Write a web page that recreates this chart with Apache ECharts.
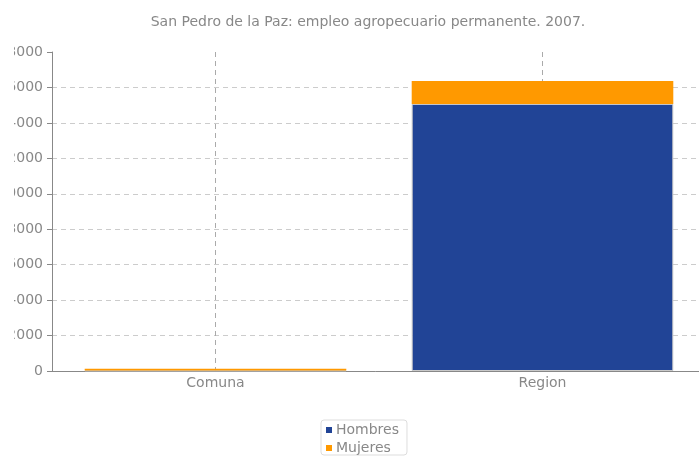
<!DOCTYPE html>
<html><head><meta charset="utf-8">
<script src="https://cdn.jsdelivr.net/npm/echarts@6/dist/echarts.min.js"></script>
<style>html,body{margin:0;padding:0;background:#fff}#c{width:699px;height:458px}</style>
</head><body><div id="c"></div>
<script>
const titleText = 'San Pedro de la Paz: empleo agropecuario permanente. 2007.';
const categories = ['Comuna', 'Region'];
const hombres = [30, 15070];
const mujeres = [100, 1300];
const seriesNames = ['Hombres', 'Mujeres'];
const yTicks = {min: 0, max: 18000, interval: 2000};

const chart = echarts.init(document.getElementById('c'));
const FONT = 'DejaVu Sans';
chart.setOption({
  animation: false,
  backgroundColor: '#fff',
  title: {text: titleText, left: 363, top: 10, textAlign: 'center',
    textStyle: {fontFamily: FONT, fontSize: 14, fontWeight: 'normal', color: '#888'}},
  legend: {orient: 'vertical', left: 321, top: 420, itemWidth: 6, itemHeight: 6, itemGap: 4,
    icon: 'rect', padding: [3, 8, 0, 5], borderColor: '#ddd', borderWidth: 1, borderRadius: 3,
    itemStyle: {borderWidth: 0},
    textStyle: {fontFamily: FONT, fontSize: 14, lineHeight: 14, color: '#888', padding: [0, 0, 0, -1]},
    data: seriesNames},
  grid: {left: 52, right: -7, top: 52, bottom: 87, outerBoundsMode: 'none', containLabel: false},
  xAxis: {type: 'category', data: categories,
    axisLine: {lineStyle: {color: '#888'}},
    axisTick: {show: false},
    axisLabel: {fontFamily: FONT, fontSize: 14, color: '#888', margin: 5},
    splitLine: {show: true, alignWithLabel: true, lineStyle: {color: '#aaa', type: [5, 4]}}},
  yAxis: {type: 'value', min: yTicks.min, max: yTicks.max, interval: yTicks.interval,
    axisLine: {show: true, lineStyle: {color: '#888'}},
    axisTick: {show: true, length: 5, lineStyle: {color: '#888'}},
    axisLabel: {fontFamily: FONT, fontSize: 14, color: '#888', margin: 9, formatter: v => String(v)},
    splitLine: {showMaxLine: false, lineStyle: {color: '#ccc', type: [5, 4]}}},
  graphic: [{type: 'rect', left: 0, top: 40, shape: {width: 14, height: 320},
    style: {fill: '#fff'}, z: 100}],
  series: [
    {name: seriesNames[0], type: 'bar', stack: 't', data: hombres, barWidth: '80%',
      itemStyle: {color: '#214496', borderColor: '#c8c8c8', borderWidth: 1}},
    {name: seriesNames[1], type: 'bar', stack: 't', data: mujeres, barWidth: '80%',
      itemStyle: {color: '#ff9900', borderWidth: 0}}
  ]
});
</script></body></html>
